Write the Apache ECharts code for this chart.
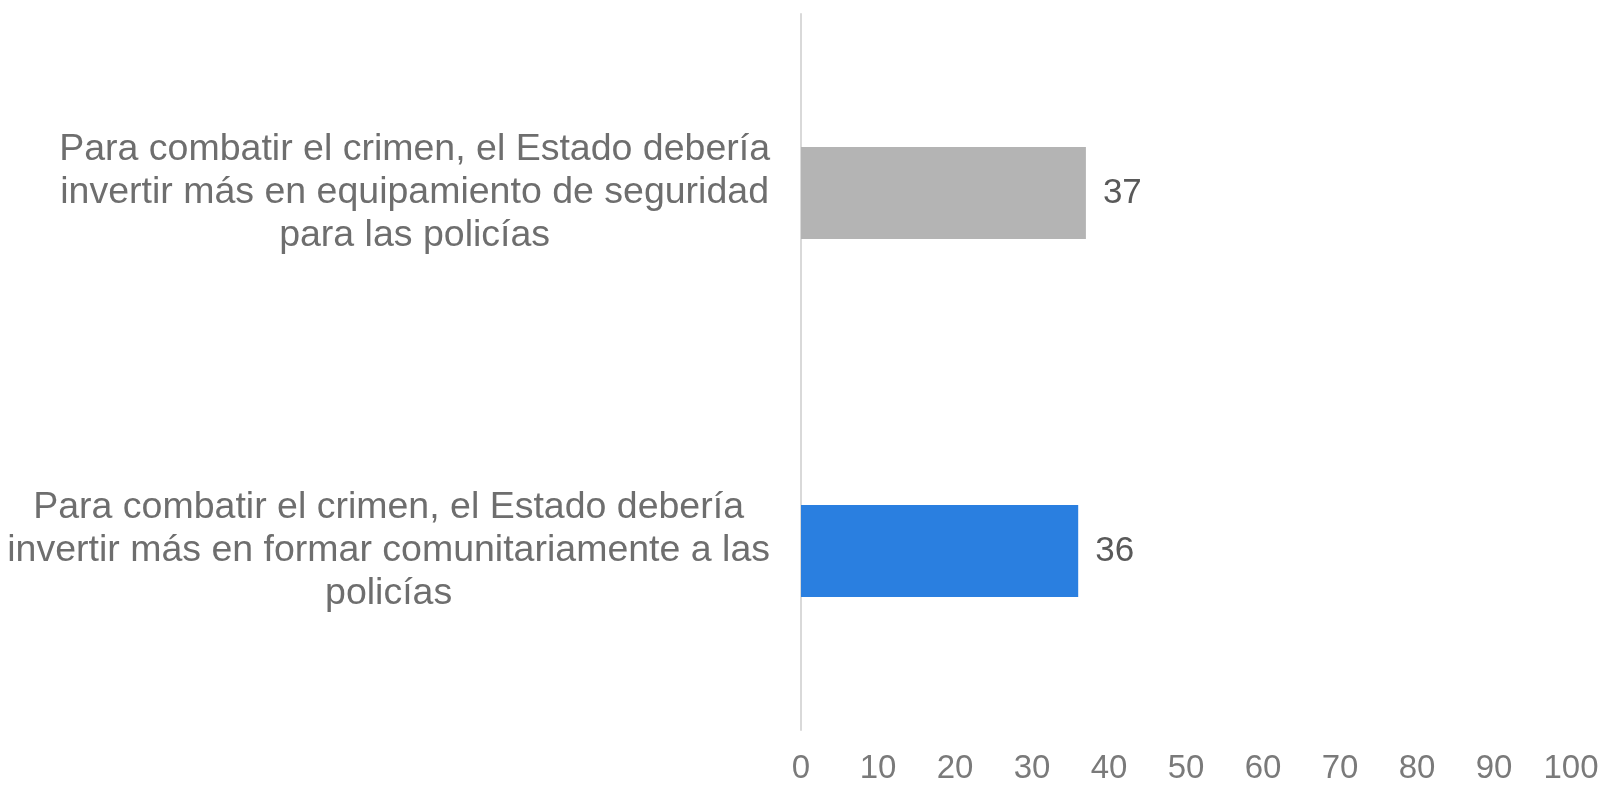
<!DOCTYPE html>
<html>
<head>
<meta charset="utf-8">
<script src="https://cdn.jsdelivr.net/npm/echarts@6/dist/echarts.min.js"></script>
<style>
html,body{margin:0;padding:0;background:#fff;}
#chart{width:1604px;height:785px;}
</style>
</head>
<body>
<div id="chart"></div>
<script>
var categories = [
  "Para combatir el crimen, el Estado debería\ninvertir más en formar comunitariamente a las\npolicías",
  "Para combatir el crimen, el Estado debería\ninvertir más en equipamiento de seguridad\npara las policías"
];
var values = [36, 37];
var barColors = ["#2a7fe0", "#b4b4b4"];
var xTicks = [0, 10, 20, 30, 40, 50, 60, 70, 80, 90, 100];

var chart = echarts.init(document.getElementById('chart'));
chart.setOption({
  animation: false,
  grid: {left: 801, right: 33, top: 14, bottom: 52, containLabel: false},
  xAxis: {
    type: 'value', min: xTicks[0], max: xTicks[xTicks.length-1], interval: 10,
    axisLine: {show: false}, axisTick: {show: false}, splitLine: {show: false},
    axisLabel: {color: '#7a7a7a', fontSize: 33, fontFamily: "'Liberation Sans Narrow', 'Arial Narrow', sans-serif", margin: 22}
  },
  yAxis: {
    type: 'category', data: categories,
    axisLine: {show: true, lineStyle: {color: '#d9d9d9', width: 2}},
    axisTick: {show: false},
    axisLabel: {
      align: 'right', margin: 31,
      color: '#6e6e6e', fontSize: 37.5, fontFamily: 'Liberation Sans, Arial, sans-serif',
      lineHeight: 43,
      formatter: function (v) {
        return v.split('\n').map(function (s) { return '{a|' + s + '}'; }).join('\n');
      },
      rich: {a: {align: 'center', color: '#6e6e6e', fontSize: 37.5, lineHeight: 43, fontFamily: 'Liberation Sans, Arial, sans-serif'}}
    }
  },
  series: [{
    type: 'bar', barWidth: 92,
    data: values.map(function (v, i) { return {value: v, itemStyle: {color: barColors[i]}}; }),
    label: {show: true, position: 'right', distance: 17, color: '#595959', fontSize: 35, fontFamily: 'Liberation Sans, Arial, sans-serif'}
  }]
});
</script>
</body>
</html>
